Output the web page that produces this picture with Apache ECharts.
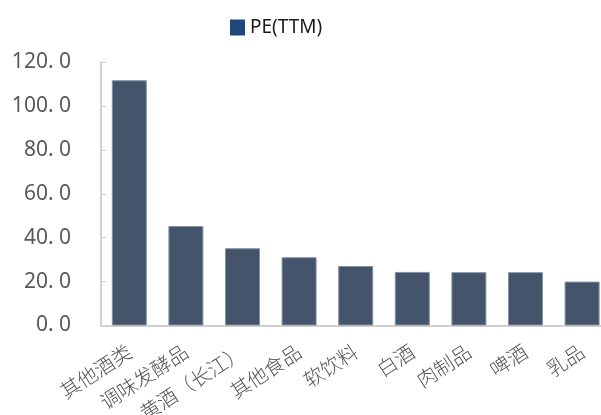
<!DOCTYPE html>
<html>
<head>
<meta charset="utf-8">
<script src="https://cdn.jsdelivr.net/npm/echarts@6/dist/echarts.min.js"></script>
<style>
  html, body { margin: 0; padding: 0; background: #ffffff; }
  #chart { width: 601px; height: 415px; }
</style>
</head>
<body>
<div id="chart"></div>
<script>
// 食品饮料子行业估值 PE(TTM)
const categories = ['其他酒类', '调味发酵品', '黄酒（长江）', '其他食品', '软饮料', '白酒', '肉制品', '啤酒', '乳品'];
const peValues = [111.7, 45.3, 35.2, 31.1, 27.1, 24.4, 24.3, 24.3, 20.0];
const seriesName = 'PE(TTM)';

const chart = echarts.init(document.getElementById('chart'), null, { renderer: 'canvas' });

chart.setOption({
  animation: false,
  backgroundColor: '#ffffff',
  legend: {
    left: 225,
    top: 13,
    itemWidth: 15,
    itemHeight: 16,
    itemGap: 10,
    textStyle: { fontFamily: '"Liberation Sans Narrow", "Noto Sans"', fontSize: 19, color: '#1a1a1a' },
    data: [{ name: seriesName, icon: 'rect', itemStyle: { color: '#1F497D', borderWidth: 0 } }]
  },
  // the plot runs a little past the right edge of the canvas
  grid: { left: 101, width: 509.4, top: 62, bottom: 89.5, containLabel: false, outerBoundsMode: 'none' },
  xAxis: {
    type: 'category',
    data: categories,
    axisLine: { lineStyle: { color: '#d0d0d0', width: 2 } },
    axisTick: { show: false },
    axisLabel: {
      interval: 0,
      rotate: 33,
      margin: 24,
      fontFamily: 'Noto Sans CJK SC',
      fontSize: 20,
      fontWeight: 300,
      color: '#555555'
    }
  },
  yAxis: {
    type: 'value',
    min: 0,
    max: 120,
    interval: 20,
    axisLine: { show: true, lineStyle: { color: '#d0d0d0', width: 2 } },
    axisTick: { show: true, inside: true, length: 5, lineStyle: { color: '#d0d0d0', width: 1 } },
    splitLine: { show: false },
    axisLabel: {
      margin: 30,
      fontFamily: 'Noto Sans',
      fontSize: 21,
      color: '#595959',
      formatter: v => v.toFixed(1).replace('.', '. ')
    }
  },
  series: [{
    name: seriesName,
    type: 'bar',
    data: peValues,
    barWidth: 35,
    itemStyle: { color: '#44546A', borderColor: '#8491a5', borderWidth: 1 }
  }]
});
</script>
</body>
</html>
